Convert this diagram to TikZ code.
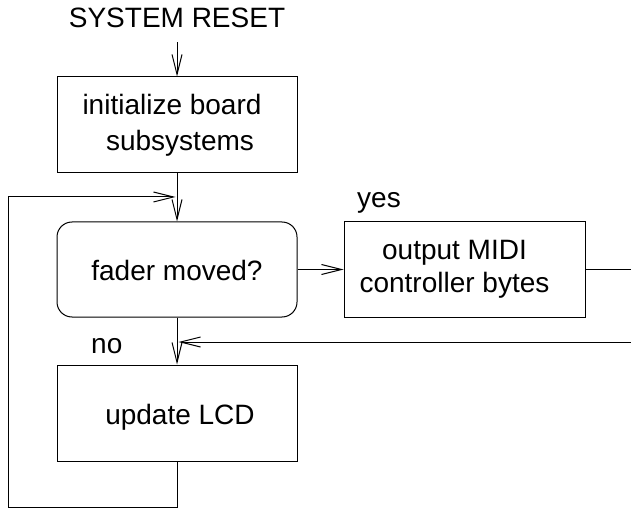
\documentclass[tikz,border=0pt]{standalone}
\usepackage{fontspec}
\setmainfont{Liberation Sans}
\usetikzlibrary{arrows.meta}
\begin{document}
\begin{tikzpicture}[x=1pt,y=1pt,
  every node/.style={font=\fontsize{28}{33}\selectfont},
  conn/.style={line width=1pt},
  arr/.style={conn,-{Straight Barb[length=20pt,width=10pt,line width=1pt]}},
  box/.style={draw,line width=1pt,minimum width=240pt,minimum height=96pt,inner sep=0pt,align=center},
  lbl/.style={inner sep=0pt,anchor=base west}]
\useasboundingbox (0,0) rectangle (631,-510);
\node[inner sep=0pt,anchor=base] (reset) at (177,-28) {SYSTEM RESET};
\node[box,font=\fontsize{28}{36}\selectfont] (init) at (177,-125)
  {initialize board\hspace*{10pt}\\\hspace*{6pt}subsystems};
\node[box,rounded corners=15pt,minimum height=95pt,text height=21pt,text depth=0pt] (fader) at (177,-269.5) {fader moved?};
\node[box,minimum width=241pt,minimum height=95pt] (out) at (464.5,-269.5)
  {output MIDI\hspace*{20pt}\\controller bytes\hspace*{20pt}};
\node[box,text height=22pt,text depth=0pt] (upd) at (177,-413) {\hspace*{6pt}update LCD};
\node[lbl] (yes) at (357,-208) {yes};
\node[lbl] (no) at (91,-353) {no};
\coordinate (j1) at (177,-197);
\coordinate (j2) at (177,-342);
\coordinate (bl) at (8,-507);
\coordinate (e1) at (631,-269.5);
\coordinate (e2) at (631,-342);
\draw[arr,shorten <=14pt] (reset.south) -- (init.north);
\draw[arr] (init.south) -- (fader.north);
\draw[arr] (fader.east) -- (out.west);
\draw[conn] (out.east) -- (e1);
\draw[arr,shorten >=1.5pt] (e2) -- (j2);
\draw[arr] (fader.south) -- (upd.north);
\draw[arr,shorten >=1.5pt] (upd.south) |- (bl) |- (j1);
\end{tikzpicture}
\end{document}
